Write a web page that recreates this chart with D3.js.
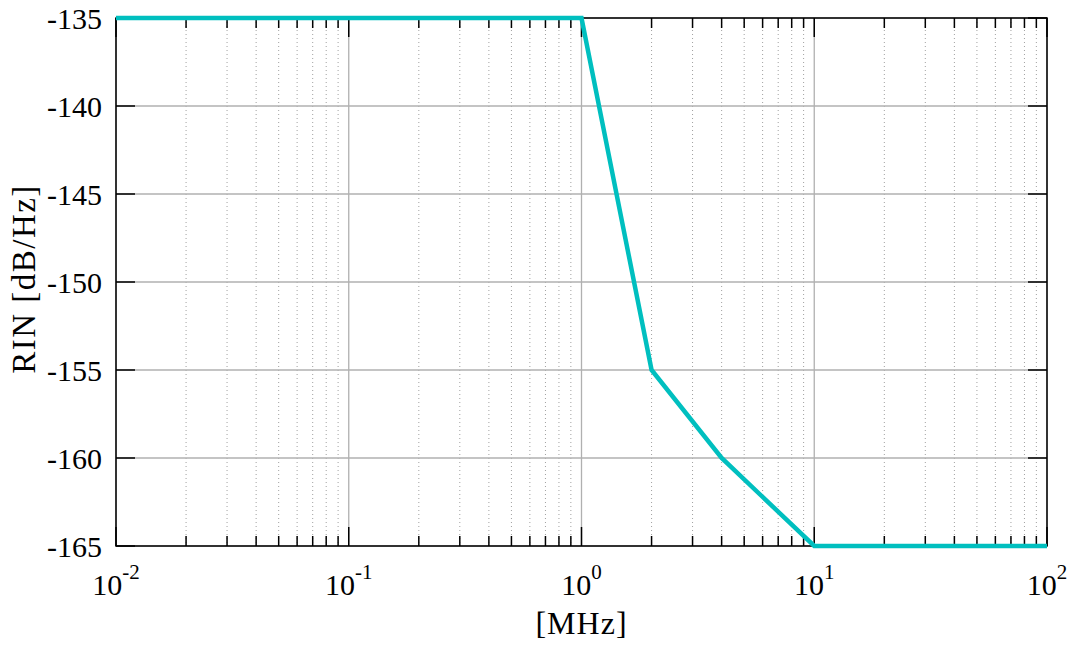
<!DOCTYPE html>
<html>
<head>
<meta charset="utf-8">
<script src="https://cdn.jsdelivr.net/npm/d3@7"></script>
<style>
  html, body { margin: 0; padding: 0; background: #fff; overflow: hidden; }
  svg { display: block; }
  svg text { font-family: 'Liberation Serif', 'Times New Roman', serif; }
</style>
</head>
<body>
<div id="chart"></div>
<script>
// RIN spec mask, frequency in MHz vs dB/Hz
const freqMHz = [0.01, 1, 2, 4, 10, 100];
const rinDb = [-135, -135, -155, -160, -165, -165];
const yTicks = [-135, -140, -145, -150, -155, -160, -165];
const xDecades = [-2, -1, 0, 1, 2];

const width = 1073, height = 645;
const margin = { top: 18, right: 26, bottom: 99, left: 116 };
const innerWidth = width - margin.left - margin.right;
const innerHeight = height - margin.top - margin.bottom;

const svg = d3.select('#chart').append('svg')
  .attr('width', width).attr('height', height)
  .attr('viewBox', `0 0 ${width} ${height}`);
const g = svg.append('g').attr('transform', `translate(${margin.left},${margin.top})`);

const x = d3.scaleLog().domain([0.01, 100]).range([0, innerWidth]);
const y = d3.scaleLinear().domain([-165, -135]).range([innerHeight, 0]);

// minor positions 2..9 inside every decade
const minorTicks = [];
xDecades.slice(0, -1).forEach((e) => {
  for (let k = 2; k <= 9; k++) minorTicks.push(k * Math.pow(10, e));
});
const majorTicks = xDecades.map((e) => Math.pow(10, e));

// grid
g.append('g').selectAll('line').data(minorTicks).join('line')
  .attr('x1', (d) => x(d)).attr('x2', (d) => x(d))
  .attr('y1', 0).attr('y2', innerHeight)
  .attr('stroke', '#a0a0a0').attr('stroke-width', 1).attr('stroke-dasharray', '1,3');
g.append('g').selectAll('line').data(majorTicks).join('line')
  .attr('x1', (d) => x(d)).attr('x2', (d) => x(d))
  .attr('y1', 0).attr('y2', innerHeight)
  .attr('stroke', '#b0b0b0').attr('stroke-width', 1.3);
g.append('g').selectAll('line').data(yTicks).join('line')
  .attr('x1', 0).attr('x2', innerWidth)
  .attr('y1', (d) => y(d)).attr('y2', (d) => y(d))
  .attr('stroke', '#b0b0b0').attr('stroke-width', 1.3);

// inward ticks, mirrored on top and right
const ticks = g.append('g').attr('stroke', '#000').attr('stroke-width', 1.5);
majorTicks.forEach((d) => {
  ticks.append('line').attr('x1', x(d)).attr('x2', x(d)).attr('y1', innerHeight).attr('y2', innerHeight - 19);
  ticks.append('line').attr('x1', x(d)).attr('x2', x(d)).attr('y1', 0).attr('y2', 19);
});
minorTicks.forEach((d) => {
  ticks.append('line').attr('x1', x(d)).attr('x2', x(d)).attr('y1', innerHeight).attr('y2', innerHeight - 10);
  ticks.append('line').attr('x1', x(d)).attr('x2', x(d)).attr('y1', 0).attr('y2', 10);
});
yTicks.forEach((d) => {
  ticks.append('line').attr('x1', 0).attr('x2', 19).attr('y1', y(d)).attr('y2', y(d));
  ticks.append('line').attr('x1', innerWidth).attr('x2', innerWidth - 19).attr('y1', y(d)).attr('y2', y(d));
});

// frame
g.append('rect').attr('width', innerWidth).attr('height', innerHeight)
  .attr('fill', 'none').attr('stroke', '#000').attr('stroke-width', 1.5);

// data line
const line = d3.line().x((d, i) => x(freqMHz[i])).y((d) => y(d));
g.append('path').datum(rinDb)
  .attr('d', line)
  .attr('fill', 'none').attr('stroke', '#00bfbf').attr('stroke-width', 4.5)
  .attr('stroke-linejoin', 'miter');

// tick labels in page coordinates
svg.append('g').selectAll('text').data(yTicks).join('text')
  .attr('x', margin.left - 14).attr('y', (d) => margin.top + y(d) + 11)
  .attr('text-anchor', 'end').attr('font-size', 30).attr('fill', '#000')
  .text((d) => d);

const xl = svg.append('g').selectAll('text').data(xDecades).join('text')
  .attr('x', (d) => margin.left + x(Math.pow(10, d))).attr('y', margin.top + innerHeight + 49)
  .attr('text-anchor', 'middle').attr('font-size', 30).attr('fill', '#000');
xl.append('tspan').text('10');
xl.append('tspan').attr('dy', -16).attr('font-size', 21).text((d) => String(d));

// axis titles
svg.append('text')
  .attr('x', margin.left + innerWidth / 2).attr('y', 634)
  .attr('text-anchor', 'middle').attr('font-size', 32).style('letter-spacing', '1px')
  .text('[MHz]');
svg.append('text')
  .attr('transform', `translate(35,${margin.top + innerHeight / 2 - 3}) rotate(-90)`)
  .attr('text-anchor', 'middle').attr('font-size', 33).style('letter-spacing', '1.5px')
  .text('RIN [dB/Hz]');
</script>
</body>
</html>
